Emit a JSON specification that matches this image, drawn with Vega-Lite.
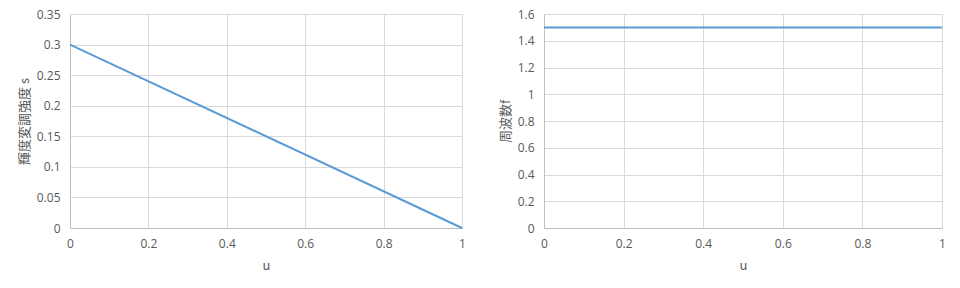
{
  "$schema": "https://vega.github.io/schema/vega-lite/v6.json",
  "autosize": {"type": "pad"},
  "padding": {"left": 17, "top": 7, "right": 0, "bottom": 0},
  "background": "white",
  "bounds": "flush",
  "spacing": 82,
  "config": {
    "font": "Noto Sans CJK JP",
    "view": {"stroke": "#d9d9d9", "strokeWidth": 1},
    "axis": {
      "labelFont": "Open Sans",
      "labelFontSize": 12,
      "labelColor": "#595959",
      "titleFont": "Noto Sans CJK JP",
      "titleFontSize": 13,
      "titleFontWeight": "normal",
      "titleColor": "#595959",
      "gridColor": "#d9d9d9",
      "domainColor": "#bfbfbf",
      "ticks": false
    }
  },
  "datasets": {
    "left": [{"u": 0, "s": 0.3}, {"u": 1, "s": 0}],
    "right": [{"u": 0, "f": 1.5}, {"u": 1, "f": 1.5}]
  },
  "hconcat": [
    {
      "width": 392,
      "height": 214,
      "data": {"name": "left"},
      "mark": {"type": "line", "color": "#5b9bd5", "strokeWidth": 2},
      "encoding": {
        "x": {"field": "u", "type": "quantitative", "scale": {"domain": [0, 1], "nice": false},
          "axis": {"title": "u", "values": [0, 0.2, 0.4, 0.6, 0.8, 1], "format": "~g", "labelPadding": 10, "titlePadding": 10, "labelFlush": false}},
        "y": {"field": "s", "type": "quantitative", "scale": {"domain": [0, 0.35], "nice": false},
          "axis": {"title": "輝度変調強度 s", "values": [0, 0.05, 0.1, 0.15, 0.2, 0.25, 0.3, 0.35], "format": "~g", "labelPadding": 10, "titlePadding": 5, "labelFlush": false}}
      }
    },
    {
      "width": 398,
      "height": 214,
      "data": {"name": "right"},
      "mark": {"type": "line", "color": "#5b9bd5", "strokeWidth": 2},
      "encoding": {
        "x": {"field": "u", "type": "quantitative", "scale": {"domain": [0, 1], "nice": false},
          "axis": {"title": "u", "values": [0, 0.2, 0.4, 0.6, 0.8, 1], "format": "~g", "labelPadding": 10, "titlePadding": 10, "labelFlush": false}},
        "y": {"field": "f", "type": "quantitative", "scale": {"domain": [0, 1.6], "nice": false},
          "axis": {"title": "周波数f", "values": [0, 0.2, 0.4, 0.6, 0.8, 1, 1.2, 1.4, 1.6], "format": "~g", "labelPadding": 10, "titlePadding": 5, "labelFlush": false}}
      }
    }
  ]
}
